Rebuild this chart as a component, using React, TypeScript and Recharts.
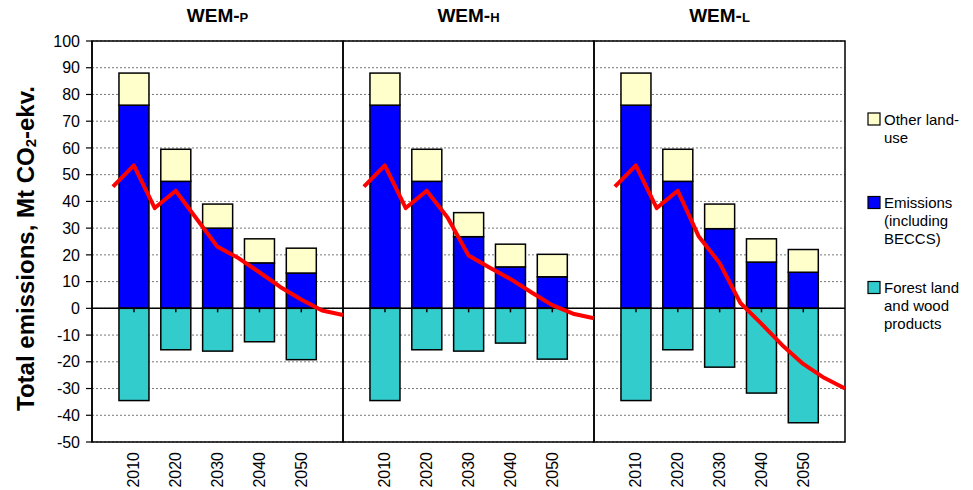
import React from 'react';
import {
  ComposedChart,
  Bar,
  Line,
  XAxis,
  YAxis,
  CartesianGrid,
  ReferenceLine,
  ReferenceArea,
  Legend,
} from 'recharts';

// Scenario panels
const SCENARIO_BASE = ['WEM-', 'WEM-', 'WEM-'];
const SCENARIO_SUFFIX = ['P', 'H', 'L'];

// Bar categories and line time points (years)
const BAR_YEARS = [2010, 2020, 2030, 2040, 2050];
const LINE_YEARS = [2005, 2010, 2015, 2020, 2025, 2030, 2035, 2040, 2045, 2050, 2055, 2060];

// WEM-P
const emissionsP = [76, 47.5, 30, 17, 13.2];
const otherLandUseP = [12, 12, 9, 9, 9.3];
const forestP = [-34.5, -15.5, -16, -12.5, -19.2];
const netP = [45.5, 53.5, 37.5, 44, 33.5, 23, 18.8, 13.5, 8, 3.3, -0.8, -2.5];

// WEM-H
const emissionsH = [76, 47.5, 26.8, 15.5, 11.8];
const otherLandUseH = [12, 12, 9, 8.5, 8.4];
const forestH = [-34.5, -15.5, -16, -13, -19];
const netH = [45.5, 53.5, 37.5, 44, 34, 19.8, 15.3, 11, 6, 1.2, -2, -3.7];

// WEM-L
const emissionsL = [76, 47.5, 29.8, 17.3, 13.5];
const otherLandUseL = [12, 12, 9.2, 8.7, 8.5];
const forestL = [-34.5, -15.5, -22, -31.7, -42.8];
const netL = [45.5, 53.5, 37.5, 44, 27, 17, 2, -5.7, -13.8, -20.8, -26, -30];

const Y_TICKS = [-50, -40, -30, -20, -10, 0, 10, 20, 30, 40, 50, 60, 70, 80, 90, 100];

const PANELS = [
  { emissions: emissionsP, other: otherLandUseP, forest: forestP, net: netP },
  { emissions: emissionsH, other: otherLandUseH, forest: forestH, net: netH },
  { emissions: emissionsL, other: otherLandUseL, forest: forestL, net: netL },
];

const COLORS = {
  other: '#FFFFCC',
  emissions: '#0000FF',
  forest: '#33CCCC',
  net: '#FF0000',
};

const LEGEND_ITEMS = [
  { color: COLORS.other, lines: ['Other land-', 'use'] },
  { color: COLORS.emissions, lines: ['Emissions', '(including', 'BECCS)'] },
  { color: COLORS.forest, lines: ['Forest land', 'and wood', 'products'] },
];

// Each panel spans 60 years on a shared numeric axis (2000..2060)
const PANEL_SPAN = 60;
const START_YEAR = 2000;
const toX = (panel: number, year: number) => panel * PANEL_SPAN + (year - START_YEAR);

const data: any[] = [];
PANELS.forEach((p, pi) => {
  LINE_YEARS.forEach((year, li) => {
    const row: any = { x: toX(pi, year) };
    row[`net${pi}`] = p.net[li];
    const bi = BAR_YEARS.indexOf(year);
    if (bi >= 0) {
      row.emissions = p.emissions[bi];
      row.other = p.other[bi];
      row.forest = p.forest[bi];
    }
    data.push(row);
  });
});

const barTicks: number[] = [];
PANELS.forEach((_, pi) => BAR_YEARS.forEach((y) => barTicks.push(toX(pi, y))));

const W = 973;
const H = 490;
const LEGEND_W = 107;
const X_AXIS_H = 48;
const BAR_W = 30;
// the legend box width is added to the right offset by the chart
const MARGIN = { top: 41, right: 128 - LEGEND_W, bottom: 0, left: 0 };
const Y_AXIS_W = 92;
const PLOT_H = H - MARGIN.top - X_AXIS_H;

const YearTick = (props: any) => {
  const { x, y, payload } = props;
  const year = START_YEAR + (payload.value % PANEL_SPAN);
  const ty = y + 2;
  return (
    <text
      x={x}
      y={ty}
      transform={`rotate(-90 ${x} ${ty})`}
      textAnchor="end"
      dominantBaseline="central"
      fontSize={16}
      fill="#000"
    >
      {year}
    </text>
  );
};

// Stacked segment drawn with a fixed width around the bar's centre;
// the forest segment also carries a small tick at the zero line.
const makeSegment = (zeroTick: boolean) => (props: any) => {
  const { x, y, width, height, fill } = props;
  const h = Math.abs(height);
  if (!h || !width) return null;
  const top = Math.min(y, y + height);
  const cx = x + width / 2;
  return (
    <g>
      <rect x={cx - BAR_W / 2} y={top} width={BAR_W} height={h} fill={fill} stroke="#000" strokeWidth={1.5} />
      {zeroTick && <line x1={cx} x2={cx} y1={top} y2={top + 4} stroke="#000" strokeWidth={1.5} />}
    </g>
  );
};
const PlainSegment = makeSegment(false);
const ForestSegment = makeSegment(true);

const PanelTitle = (idx: number) => (props: any) => {
  const vb = props.viewBox || {};
  const cx = vb.x + vb.width / 2;
  return (
    <text x={cx} y={MARGIN.top - 19} textAnchor="middle" fontSize={19} fontWeight="bold" fill="#000">
      {SCENARIO_BASE[idx]}
      <tspan fontSize={13}>{SCENARIO_SUFFIX[idx]}</tspan>
    </text>
  );
};

const YLabel = () => {
  const cx = 25;
  const cy = MARGIN.top + PLOT_H / 2 + 7;
  return (
    <text
      x={cx}
      y={cy}
      transform={`rotate(-90 ${cx} ${cy})`}
      textAnchor="middle"
      dominantBaseline="central"
      fontSize={24}
      fontWeight="bold"
      fill="#000"
    >
      Total emissions, Mt CO
      <tspan fontSize={15} dy={5}>2</tspan>
      <tspan dy={-5}>-ekv.</tspan>
    </text>
  );
};

const LegendContent = () => {
  const firstBaselines = [24.5, 108, 193];
  return (
    <svg width={LEGEND_W} height={240} style={{ overflow: 'visible' }}>
      {LEGEND_ITEMS.map((item, i) => (
        <g key={i}>
          <rect
            x={2}
            y={firstBaselines[i] - 11.5}
            width={12}
            height={12}
            fill={item.color}
            stroke="#000"
            strokeWidth={1.2}
          />
          <text x={18} y={firstBaselines[i]} fontSize={15} fill="#000">
            {item.lines.map((ln, j) => (
              <tspan key={j} x={18} dy={j === 0 ? 0 : 18}>
                {ln}
              </tspan>
            ))}
          </text>
        </g>
      ))}
    </svg>
  );
};

export default function App() {
  return (
    <div
      style={{
        position: 'absolute',
        left: 0,
        top: 0,
        width: W,
        height: H,
        background: '#fff',
        fontFamily: '"Liberation Sans", Arial, sans-serif',
      }}
    >
      <ComposedChart width={W} height={H} data={data} margin={MARGIN} stackOffset="sign">
        <CartesianGrid vertical={false} stroke="#777" strokeDasharray="2 2" />
        <XAxis
          dataKey="x"
          type="number"
          domain={[0, PANEL_SPAN * 3]}
          ticks={barTicks}
          interval={0}
          tick={<YearTick />}
          tickLine={false}
          axisLine={false}
          height={X_AXIS_H}
          allowDataOverflow
        />
        <YAxis
          type="number"
          domain={[-50, 100]}
          ticks={Y_TICKS}
          interval={0}
          width={Y_AXIS_W}
          tick={{ fontSize: 16, fill: '#000' }}
          tickLine={{ stroke: '#000', strokeWidth: 1.2 }}
          tickSize={6}
          tickMargin={6}
          axisLine={{ stroke: '#000', strokeWidth: 1.5 }}
          label={<YLabel />}
          allowDataOverflow
        />
        <Legend
          layout="horizontal"
          verticalAlign="middle"
          align="right"
          content={<LegendContent />}
          wrapperStyle={{ left: 866, top: 100, width: LEGEND_W, height: 240 }}
        />
        <Bar
          dataKey="emissions"
          stackId="s"
          fill={COLORS.emissions}
          shape={<PlainSegment />}
          isAnimationActive={false}
        />
        <Bar
          dataKey="other"
          stackId="s"
          fill={COLORS.other}
          shape={<PlainSegment />}
          isAnimationActive={false}
        />
        <Bar
          dataKey="forest"
          stackId="s"
          fill={COLORS.forest}
          shape={<ForestSegment />}
          isAnimationActive={false}
        />
        <ReferenceLine y={0} stroke="#000" strokeWidth={1.5} />
        {PANELS.map((_, pi) => (
          <ReferenceArea
            key={pi}
            x1={pi * PANEL_SPAN}
            x2={(pi + 1) * PANEL_SPAN}
            y1={-50}
            y2={100}
            fill="none"
            fillOpacity={0}
            stroke="#000"
            strokeWidth={1.5}
            ifOverflow="visible"
            label={PanelTitle(pi)}
          />
        ))}
        {PANELS.map((_, pi) => (
          <Line
            key={`net${pi}`}
            dataKey={`net${pi}`}
            type="linear"
            stroke={COLORS.net}
            strokeWidth={4}
            strokeLinejoin="round"
            dot={false}
            activeDot={false}
            connectNulls={false}
            isAnimationActive={false}
          />
        ))}
      </ComposedChart>
    </div>
  );
}
